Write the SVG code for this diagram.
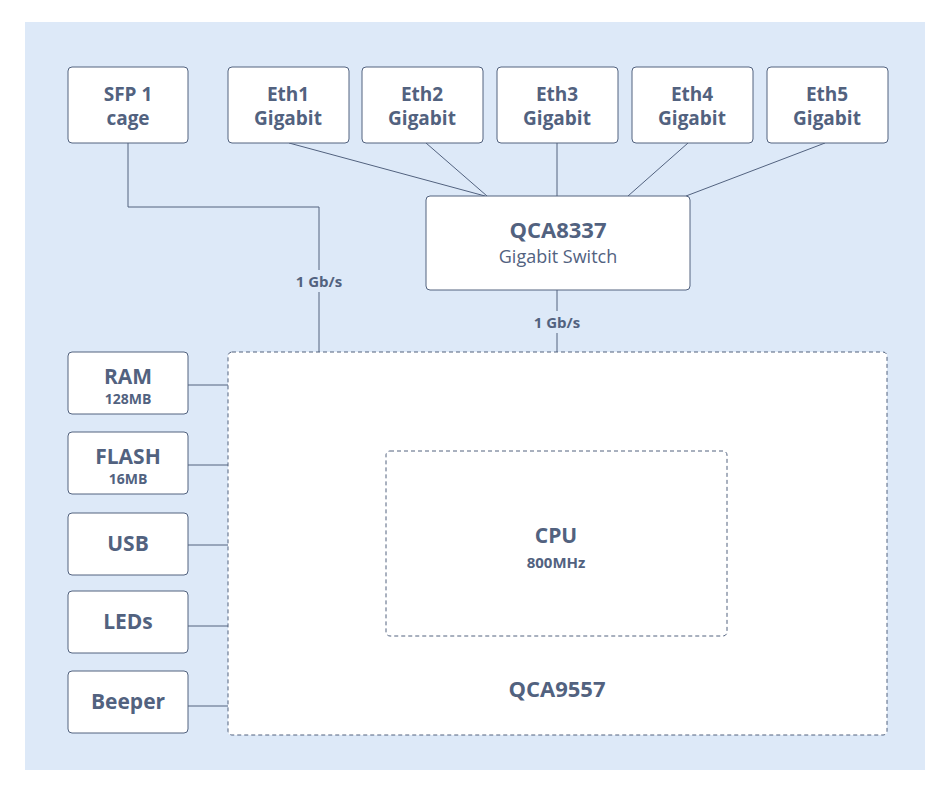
<svg xmlns="http://www.w3.org/2000/svg" width="950" height="792" viewBox="0 0 950 792">
<style>
.b{fill:#fff;stroke:#52627f;stroke-width:1}
.d{fill:#fff;stroke:#52627f;stroke-width:1;stroke-dasharray:4 3}
text{font-family:"Open Sans","Liberation Sans",sans-serif;fill:#52627f;text-anchor:middle}
.t{font-size:19px;font-weight:bold}
.s{font-size:14px;font-weight:bold}
.l{font-size:15px;font-weight:bold}
.c line,.c path{stroke:#52627f;stroke-width:1;fill:none}
</style>
<rect x="0" y="0" width="950" height="792" fill="#fff"/>
<rect x="25" y="22" width="900" height="748" fill="#dde9f8"/>
<g class="c" id="connectors">
<path d="M128 143V207H319V352"/>
<line x1="289" y1="143" x2="485" y2="196"/>
<line x1="426" y1="143" x2="487" y2="196"/>
<line x1="557" y1="143" x2="557" y2="196"/>
<line x1="688" y1="143" x2="628" y2="196"/>
<line x1="825" y1="143" x2="686" y2="196"/>
<line x1="557" y1="290" x2="557" y2="352"/>
<line x1="188" y1="385" x2="228" y2="385"/>
<line x1="188" y1="465" x2="228" y2="465"/>
<line x1="188" y1="545" x2="228" y2="545"/>
<line x1="188" y1="626" x2="228" y2="626"/>
<line x1="188" y1="706" x2="228" y2="706"/>
<rect x="288" y="270" width="62" height="22" fill="#dde9f8" stroke="none"/>
<text x="319" y="287" class="l">1 Gb/s</text>
<rect x="526" y="311" width="62" height="22" fill="#dde9f8" stroke="none"/>
<text x="557" y="328" class="l">1 Gb/s</text>
</g>
<g id="sfp"><rect class="b" x="68" y="67" width="120" height="76" rx="4"/><text x="128" y="101" class="t">SFP 1</text><text x="128" y="125" class="t">cage</text></g>
<g id="eth1"><rect class="b" x="228" y="67" width="121" height="76" rx="4"/><text x="288" y="101" class="t">Eth1</text><text x="288" y="125" class="t">Gigabit</text></g>
<g id="eth2"><rect class="b" x="362" y="67" width="121" height="76" rx="4"/><text x="422" y="101" class="t">Eth2</text><text x="422" y="125" class="t">Gigabit</text></g>
<g id="eth3"><rect class="b" x="497" y="67" width="121" height="76" rx="4"/><text x="557" y="101" class="t">Eth3</text><text x="557" y="125" class="t">Gigabit</text></g>
<g id="eth4"><rect class="b" x="632" y="67" width="121" height="76" rx="4"/><text x="692" y="101" class="t">Eth4</text><text x="692" y="125" class="t">Gigabit</text></g>
<g id="eth5"><rect class="b" x="767" y="67" width="121" height="76" rx="4"/><text x="827" y="101" class="t">Eth5</text><text x="827" y="125" class="t">Gigabit</text></g>
<g id="switch"><rect class="b" x="426" y="196" width="264" height="94" rx="4"/><text x="558" y="238" style="font-size:22px;font-weight:bold">QCA8337</text><text x="558" y="263" style="font-size:18px">Gigabit Switch</text></g>
<g id="qca9557"><rect class="d" x="228" y="352" width="659" height="383" rx="4"/><text x="557" y="697" style="font-size:22px;font-weight:bold">QCA9557</text></g>
<g id="cpu"><rect class="d" x="386" y="451" width="341" height="185" rx="4"/><text x="556" y="543" style="font-size:21px;font-weight:bold">CPU</text><text x="556" y="568" class="s" style="font-size:15px">800MHz</text></g>
<g id="ram"><rect class="b" x="68" y="352" width="120" height="62" rx="4"/><text x="128" y="384" class="t" style="font-size:21px">RAM</text><text x="128" y="404" class="s">128MB</text></g>
<g id="flash"><rect class="b" x="68" y="432" width="120" height="62" rx="4"/><text x="128" y="464" class="t" style="font-size:21px">FLASH</text><text x="128" y="484" class="s">16MB</text></g>
<g id="usb"><rect class="b" x="68" y="513" width="120" height="62" rx="4"/><text x="128" y="551" class="t" style="font-size:21px">USB</text></g>
<g id="leds"><rect class="b" x="68" y="591" width="120" height="62" rx="4"/><text x="128" y="629" class="t" style="font-size:21px">LEDs</text></g>
<g id="beeper"><rect class="b" x="68" y="671" width="120" height="62" rx="4"/><text x="128" y="709" class="t" style="font-size:21px">Beeper</text></g>
</svg>
